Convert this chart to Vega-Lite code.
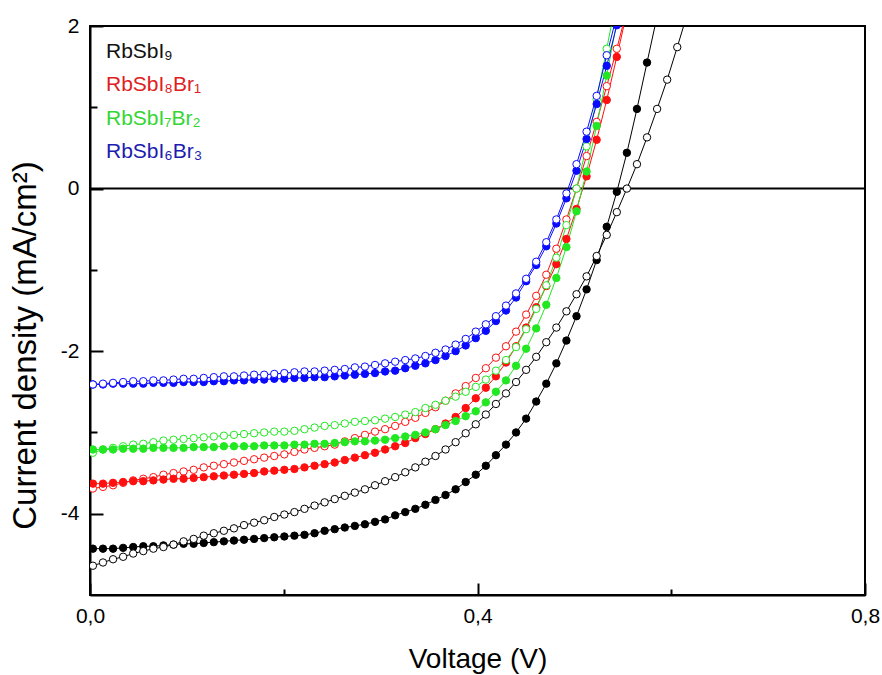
{
  "$schema": "https://vega.github.io/schema/vega-lite/v6.json",
  "width": 775,
  "height": 569,
  "autosize": {"type": "none"},
  "padding": {"left": 90, "top": 26, "right": 17, "bottom": 80},
  "background": "white",
  "config": {
    "font": "Liberation Sans",
    "view": {"stroke": "black", "strokeWidth": 2},
    "axis": {
      "grid": false,
      "domainColor": "black",
      "domainWidth": 2,
      "tickColor": "black",
      "tickWidth": 2,
      "labelColor": "black",
      "titleColor": "black",
      "labelFont": "Liberation Sans",
      "titleFont": "Liberation Sans",
      "titleFontWeight": "normal",
      "labelFlush": false,
      "labelOverlap": false
    }
  },
  "layer": [
    {
      "data": {"values": [{}]},
      "mark": {"type": "rule", "color": "black", "strokeWidth": 2},
      "encoding": {"y": {"datum": 0, "type": "quantitative"}}
    },
    {
      "data": {
        "values": [
          {"v": 0.0030, "k9f": -4.43, "k9o": -4.64, "k8o": -3.69, "k8f": -3.63, "k7o": -3.25, "k7f": -3.21, "k6f": -2.41, "k6o": -2.41},
          {"v": 0.0134, "k9f": -4.43, "k9o": -4.60, "k8o": -3.67, "k8f": -3.63, "k7o": -3.21, "k7f": -3.21, "k6f": -2.41, "k6o": -2.40},
          {"v": 0.0238, "k9f": -4.43, "k9o": -4.56, "k8o": -3.65, "k8f": -3.62, "k7o": -3.19, "k7f": -3.21, "k6f": -2.40, "k6o": -2.39},
          {"v": 0.0342, "k9f": -4.42, "k9o": -4.53, "k8o": -3.62, "k8f": -3.61, "k7o": -3.17, "k7f": -3.20, "k6f": -2.40, "k6o": -2.38},
          {"v": 0.0446, "k9f": -4.41, "k9o": -4.49, "k8o": -3.59, "k8f": -3.60, "k7o": -3.15, "k7f": -3.20, "k6f": -2.40, "k6o": -2.37},
          {"v": 0.0550, "k9f": -4.40, "k9o": -4.46, "k8o": -3.57, "k8f": -3.60, "k7o": -3.14, "k7f": -3.20, "k6f": -2.40, "k6o": -2.37},
          {"v": 0.0654, "k9f": -4.40, "k9o": -4.43, "k8o": -3.55, "k8f": -3.59, "k7o": -3.12, "k7f": -3.19, "k6f": -2.39, "k6o": -2.36},
          {"v": 0.0758, "k9f": -4.39, "k9o": -4.41, "k8o": -3.52, "k8f": -3.58, "k7o": -3.10, "k7f": -3.19, "k6f": -2.39, "k6o": -2.36},
          {"v": 0.0862, "k9f": -4.38, "k9o": -4.38, "k8o": -3.50, "k8f": -3.57, "k7o": -3.09, "k7f": -3.19, "k6f": -2.39, "k6o": -2.35},
          {"v": 0.0966, "k9f": -4.37, "k9o": -4.34, "k8o": -3.48, "k8f": -3.57, "k7o": -3.08, "k7f": -3.19, "k6f": -2.38, "k6o": -2.34},
          {"v": 0.1070, "k9f": -4.37, "k9o": -4.31, "k8o": -3.46, "k8f": -3.56, "k7o": -3.07, "k7f": -3.18, "k6f": -2.38, "k6o": -2.34},
          {"v": 0.1174, "k9f": -4.36, "k9o": -4.27, "k8o": -3.43, "k8f": -3.55, "k7o": -3.06, "k7f": -3.18, "k6f": -2.38, "k6o": -2.33},
          {"v": 0.1278, "k9f": -4.35, "k9o": -4.24, "k8o": -3.41, "k8f": -3.54, "k7o": -3.05, "k7f": -3.18, "k6f": -2.37, "k6o": -2.32},
          {"v": 0.1382, "k9f": -4.34, "k9o": -4.21, "k8o": -3.39, "k8f": -3.53, "k7o": -3.04, "k7f": -3.17, "k6f": -2.37, "k6o": -2.31},
          {"v": 0.1486, "k9f": -4.33, "k9o": -4.18, "k8o": -3.37, "k8f": -3.52, "k7o": -3.03, "k7f": -3.17, "k6f": -2.36, "k6o": -2.31},
          {"v": 0.1590, "k9f": -4.32, "k9o": -4.14, "k8o": -3.35, "k8f": -3.51, "k7o": -3.02, "k7f": -3.17, "k6f": -2.36, "k6o": -2.30},
          {"v": 0.1694, "k9f": -4.31, "k9o": -4.11, "k8o": -3.33, "k8f": -3.50, "k7o": -3.01, "k7f": -3.17, "k6f": -2.35, "k6o": -2.29},
          {"v": 0.1798, "k9f": -4.30, "k9o": -4.08, "k8o": -3.31, "k8f": -3.48, "k7o": -3.00, "k7f": -3.16, "k6f": -2.35, "k6o": -2.29},
          {"v": 0.1902, "k9f": -4.29, "k9o": -4.04, "k8o": -3.29, "k8f": -3.47, "k7o": -2.99, "k7f": -3.16, "k6f": -2.34, "k6o": -2.28},
          {"v": 0.2006, "k9f": -4.28, "k9o": -4.01, "k8o": -3.27, "k8f": -3.46, "k7o": -2.99, "k7f": -3.16, "k6f": -2.34, "k6o": -2.27},
          {"v": 0.2110, "k9f": -4.27, "k9o": -3.98, "k8o": -3.24, "k8f": -3.45, "k7o": -2.98, "k7f": -3.15, "k6f": -2.33, "k6o": -2.26},
          {"v": 0.2214, "k9f": -4.26, "k9o": -3.94, "k8o": -3.21, "k8f": -3.43, "k7o": -2.96, "k7f": -3.15, "k6f": -2.33, "k6o": -2.25},
          {"v": 0.2318, "k9f": -4.24, "k9o": -3.90, "k8o": -3.19, "k8f": -3.41, "k7o": -2.94, "k7f": -3.14, "k6f": -2.32, "k6o": -2.25},
          {"v": 0.2422, "k9f": -4.21, "k9o": -3.86, "k8o": -3.17, "k8f": -3.39, "k7o": -2.92, "k7f": -3.14, "k6f": -2.32, "k6o": -2.24},
          {"v": 0.2526, "k9f": -4.19, "k9o": -3.82, "k8o": -3.15, "k8f": -3.37, "k7o": -2.91, "k7f": -3.13, "k6f": -2.31, "k6o": -2.23},
          {"v": 0.2630, "k9f": -4.17, "k9o": -3.78, "k8o": -3.11, "k8f": -3.34, "k7o": -2.89, "k7f": -3.12, "k6f": -2.30, "k6o": -2.22},
          {"v": 0.2734, "k9f": -4.15, "k9o": -3.74, "k8o": -3.07, "k8f": -3.31, "k7o": -2.87, "k7f": -3.11, "k6f": -2.29, "k6o": -2.20},
          {"v": 0.2838, "k9f": -4.13, "k9o": -3.70, "k8o": -3.03, "k8f": -3.28, "k7o": -2.86, "k7f": -3.11, "k6f": -2.28, "k6o": -2.19},
          {"v": 0.2942, "k9f": -4.10, "k9o": -3.65, "k8o": -2.99, "k8f": -3.25, "k7o": -2.85, "k7f": -3.10, "k6f": -2.27, "k6o": -2.17},
          {"v": 0.3046, "k9f": -4.07, "k9o": -3.60, "k8o": -2.96, "k8f": -3.21, "k7o": -2.83, "k7f": -3.09, "k6f": -2.25, "k6o": -2.15},
          {"v": 0.3150, "k9f": -4.02, "k9o": -3.55, "k8o": -2.92, "k8f": -3.17, "k7o": -2.81, "k7f": -3.07, "k6f": -2.24, "k6o": -2.13},
          {"v": 0.3254, "k9f": -3.98, "k9o": -3.49, "k8o": -2.87, "k8f": -3.13, "k7o": -2.78, "k7f": -3.05, "k6f": -2.21, "k6o": -2.11},
          {"v": 0.3358, "k9f": -3.94, "k9o": -3.43, "k8o": -2.82, "k8f": -3.07, "k7o": -2.75, "k7f": -3.03, "k6f": -2.18, "k6o": -2.09},
          {"v": 0.3462, "k9f": -3.89, "k9o": -3.36, "k8o": -2.76, "k8f": -3.02, "k7o": -2.70, "k7f": -3.00, "k6f": -2.15, "k6o": -2.06},
          {"v": 0.3566, "k9f": -3.83, "k9o": -3.29, "k8o": -2.69, "k8f": -2.96, "k7o": -2.66, "k7f": -2.96, "k6f": -2.11, "k6o": -2.02},
          {"v": 0.3670, "k9f": -3.77, "k9o": -3.21, "k8o": -2.61, "k8f": -2.89, "k7o": -2.61, "k7f": -2.91, "k6f": -2.06, "k6o": -1.98},
          {"v": 0.3774, "k9f": -3.70, "k9o": -3.12, "k8o": -2.52, "k8f": -2.81, "k7o": -2.56, "k7f": -2.86, "k6f": -2.00, "k6o": -1.92},
          {"v": 0.3878, "k9f": -3.61, "k9o": -3.01, "k8o": -2.43, "k8f": -2.70, "k7o": -2.50, "k7f": -2.80, "k6f": -1.93, "k6o": -1.85},
          {"v": 0.3982, "k9f": -3.52, "k9o": -2.90, "k8o": -2.33, "k8f": -2.58, "k7o": -2.44, "k7f": -2.74, "k6f": -1.84, "k6o": -1.76},
          {"v": 0.4086, "k9f": -3.41, "k9o": -2.78, "k8o": -2.21, "k8f": -2.45, "k7o": -2.35, "k7f": -2.63, "k6f": -1.75, "k6o": -1.67},
          {"v": 0.4190, "k9f": -3.28, "k9o": -2.65, "k8o": -2.08, "k8f": -2.31, "k7o": -2.24, "k7f": -2.50, "k6f": -1.63, "k6o": -1.57},
          {"v": 0.4294, "k9f": -3.15, "k9o": -2.52, "k8o": -1.94, "k8f": -2.14, "k7o": -2.11, "k7f": -2.36, "k6f": -1.50, "k6o": -1.44},
          {"v": 0.4398, "k9f": -3.00, "k9o": -2.38, "k8o": -1.76, "k8f": -1.94, "k7o": -1.95, "k7f": -2.18, "k6f": -1.34, "k6o": -1.29},
          {"v": 0.4502, "k9f": -2.83, "k9o": -2.23, "k8o": -1.55, "k8f": -1.71, "k7o": -1.73, "k7f": -1.97, "k6f": -1.14, "k6o": -1.11},
          {"v": 0.4606, "k9f": -2.62, "k9o": -2.07, "k8o": -1.32, "k8f": -1.46, "k7o": -1.48, "k7f": -1.72, "k6f": -0.94, "k6o": -0.90},
          {"v": 0.4710, "k9f": -2.40, "k9o": -1.89, "k8o": -1.06, "k8f": -1.20, "k7o": -1.19, "k7f": -1.43, "k6f": -0.71, "k6o": -0.66},
          {"v": 0.4814, "k9f": -2.15, "k9o": -1.71, "k8o": -0.74, "k8f": -0.93, "k7o": -0.85, "k7f": -1.10, "k6f": -0.43, "k6o": -0.38},
          {"v": 0.4918, "k9f": -1.87, "k9o": -1.51, "k8o": -0.38, "k8f": -0.62, "k7o": -0.45, "k7f": -0.72, "k6f": -0.12, "k6o": -0.06},
          {"v": 0.5022, "k9f": -1.57, "k9o": -1.30, "k8o": 0.00, "k8f": -0.25, "k7o": 0.00, "k7f": -0.28, "k6f": 0.22, "k6o": 0.30},
          {"v": 0.5126, "k9f": -1.24, "k9o": -1.08, "k8o": 0.40, "k8f": 0.15, "k7o": 0.52, "k7f": 0.21, "k6f": 0.61, "k6o": 0.70},
          {"v": 0.5230, "k9f": -0.88, "k9o": -0.83, "k8o": 0.82, "k8f": 0.60, "k7o": 1.10, "k7f": 0.77, "k6f": 1.04, "k6o": 1.14},
          {"v": 0.5334, "k9f": -0.47, "k9o": -0.57, "k8o": 1.26, "k8f": 1.09, "k7o": 1.72, "k7f": 1.39, "k6f": 1.51, "k6o": 1.64},
          {"v": 0.5438, "k9f": -0.04, "k9o": -0.29, "k8o": 1.72, "k8f": 1.62, "k7o": 2.35, "k7f": 2.05, "k6f": 2.01, "k6o": 2.13},
          {"v": 0.5542, "k9f": 0.44, "k9o": 0.00, "k8o": 2.20, "k8f": 2.17},
          {"v": 0.5646, "k9f": 0.98, "k9o": 0.30},
          {"v": 0.5750, "k9f": 1.55, "k9o": 0.63},
          {"v": 0.5854, "k9f": 2.12, "k9o": 0.98},
          {"v": 0.5958, "k9o": 1.34},
          {"v": 0.6062, "k9o": 1.74},
          {"v": 0.6166, "k9o": 2.15}
        ]
      },
      "transform": [
        {"fold": ["k9f", "k9o", "k8o", "k8f", "k7o", "k7f", "k6f", "k6o"], "as": ["series", "j"]},
        {"filter": "isValid(datum.j)"}
      ],
      "encoding": {
        "x": {
          "field": "v",
          "type": "quantitative",
          "scale": {"domain": [0, 0.8], "nice": false, "zero": false},
          "axis": {
            "values": [0, 0.2, 0.4, 0.6, 0.8],
            "labelExpr": "round(datum.value * 10) % 4 == 0 ? replace(format(datum.value, '.1f'), '.', ',') : ''",
            "tickSize": {"condition": {"test": "round(datum.value * 10) % 4 == 0", "value": -12}, "value": -6},
            "labelPadding": 22,
            "labelFontSize": 21,
            "title": "Voltage (V)",
            "titleFontSize": 28,
            "titlePadding": 13
          }
        },
        "y": {
          "field": "j",
          "type": "quantitative",
          "scale": {"domain": [-5, 2], "nice": false, "zero": false},
          "axis": {
            "values": [-4, -3, -2, -1, 0, 1, 2],
            "labelExpr": "datum.value % 2 == 0 ? '' + datum.value : ''",
            "tickSize": {"condition": {"test": "datum.value % 2 == 0", "value": -13}, "value": -7},
            "labelPadding": 24,
            "labelFontSize": 21,
            "title": "Current density (mA/cm²)",
            "titleFontSize": 33,
            "titleY": 319,
            "titlePadding": 18
          }
        }
      },
      "layer": [
        {
          "mark": {"type": "line", "strokeWidth": 1, "clip": true},
          "encoding": {
            "stroke": {
              "field": "series",
              "type": "nominal",
              "scale": {
                "domain": ["k9f", "k9o", "k8o", "k8f", "k7o", "k7f", "k6f", "k6o"],
                "range": ["#000000", "#000000", "#ff1010", "#ff1010", "#22e822", "#22e822", "#0a0aff", "#0a0aff"]
              },
              "legend": {
                "values": ["k9f", "k8f", "k7f", "k6f"],
                "labelExpr": "datum.label == 'k9f' ? 'RbSbI₉' : datum.label == 'k8f' ? 'RbSbI₈Br₁' : datum.label == 'k7f' ? 'RbSbI₇Br₂' : 'RbSbI₆Br₃'",
                "orient": "none",
                "legendX": -5,
                "legendY": 15,
                "title": null,
                "padding": 0,
                "symbolOpacity": 0,
                "symbolSize": 1,
                "symbolStrokeWidth": 0,
                "labelOffset": 0,
                "labelFont": "Liberation Sans",
                "labelFontSize": 21,
                "rowPadding": 11.5,
                "encode": {
                  "labels": {
                    "update": {
                      "fill": [
                        {"test": "datum.value === 'k9f'", "value": "#111111"},
                        {"test": "datum.value === 'k8f'", "value": "#e0201e"},
                        {"test": "datum.value === 'k7f'", "value": "#33d633"},
                        {"value": "#1c1cb0"}
                      ]
                    }
                  }
                }
              }
            }
          }
        },
        {
          "mark": {"type": "point", "shape": "circle", "filled": true, "size": 55, "strokeWidth": 1, "opacity": 1, "clip": true},
          "encoding": {
            "stroke": {"field": "series", "type": "nominal", "legend": null},
            "fill": {
              "field": "series",
              "type": "nominal",
              "scale": {
                "domain": ["k9f", "k9o", "k8o", "k8f", "k7o", "k7f", "k6f", "k6o"],
                "range": ["#000000", "#ffffff", "#ffffff", "#ff1010", "#ffffff", "#22e822", "#0a0aff", "#ffffff"]
              },
              "legend": null
            }
          }
        }
      ]
    }
  ]
}
